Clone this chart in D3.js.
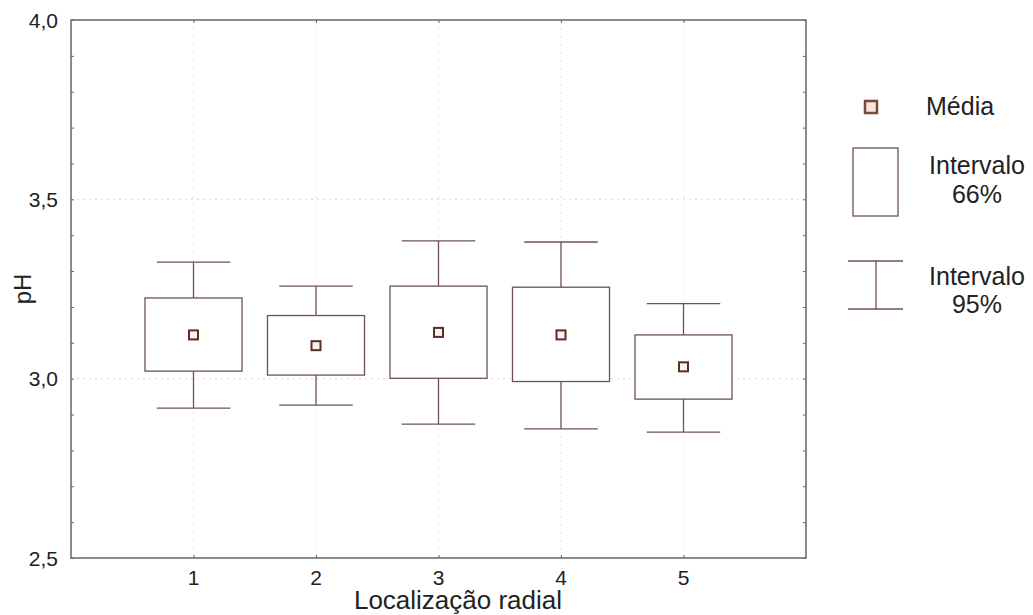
<!DOCTYPE html>
<html lang="pt">
<head>
	<meta charset="utf-8"/>
	<title> pH por localização radial </title>
	<script src="https://cdnjs.cloudflare.com/ajax/libs/d3/7.8.5/d3.min.js"></script>
	<style>
		body { margin: 0; background: #fff; }
		text { font-family: "Liberation Sans", Arial, sans-serif; fill: #222; }
	</style>
</head>
<body>
<svg id="chart" width="1033" height="615"></svg>
<script type="text/javascript">
	// valores
	var categories = [1, 2, 3, 4, 5];
	var means     = [3.122, 3.092, 3.129, 3.122, 3.033];
	var box66Low  = [3.021, 3.010, 3.001, 2.992, 2.943];
	var box66High = [3.225, 3.176, 3.258, 3.255, 3.122];
	var ci95Low   = [2.918, 2.926, 2.873, 2.860, 2.851];
	var ci95High  = [3.325, 3.258, 3.384, 3.381, 3.209];
	var yTicks = [2.5, 3.0, 3.5, 4.0];
	var yGrid = [3.0, 3.5];
	var xTitle = "Localização radial";
	var yTitle = "pH";

	var pLeft = 71, pRight = 806, pTop = 20, pBottom = 558;
	var lineColor = "#6e5252";
	var axisColor = "#666";

	var svg = d3.select("#chart");
	var x = d3.scaleLinear().domain([0, 6]).range([pLeft, pRight]);
	var y = d3.scaleLinear().domain([2.5, 4.0]).range([pBottom, pTop]);
	var fmt = function(d) { return d3.format(".1f")(d).replace(".", ","); };
	var step = x(1) - x(0);

	//grid pontilhado
	svg.append("g").selectAll("line")
		.data(yGrid).enter().append("line")
		.attr("x1", pLeft).attr("x2", pRight)
		.attr("y1", function(d) { return y(d); }).attr("y2", function(d) { return y(d); })
		.attr("stroke", "#d8d8d8").attr("stroke-dasharray", "2,4");
	svg.append("g").selectAll("line")
		.data(categories).enter().append("line")
		.attr("x1", function(d) { return x(d); }).attr("x2", function(d) { return x(d); })
		.attr("y1", pTop).attr("y2", pBottom)
		.attr("stroke", "#e0e0e0").attr("stroke-dasharray", "2,6");

	//eixos (ticks para dentro)
	var minor = d3.range(25, 41).map(function(d) { return d / 10; });
	function styleAxis(g) { g.select(".domain").remove(); g.selectAll("line").attr("stroke", axisColor); }
	svg.append("g").attr("transform", "translate(" + pLeft + ",0)")
		.call(d3.axisRight(y).tickValues(minor).tickSize(3).tickFormat(""))
		.call(styleAxis);
	svg.append("g").attr("transform", "translate(" + pRight + ",0)")
		.call(d3.axisLeft(y).tickValues(minor).tickSize(3).tickFormat(""))
		.call(styleAxis);
	svg.append("g").attr("transform", "translate(0," + pBottom + ")")
		.call(d3.axisTop(x).tickValues(categories).tickSize(3).tickFormat(""))
		.call(styleAxis);
	svg.append("g").attr("transform", "translate(0," + pTop + ")")
		.call(d3.axisBottom(x).tickValues(categories).tickSize(3).tickFormat(""))
		.call(styleAxis);

	svg.append("rect")
		.attr("x", pLeft).attr("y", pTop)
		.attr("width", pRight - pLeft).attr("height", pBottom - pTop)
		.attr("fill", "none").attr("stroke", axisColor).attr("stroke-width", 1.5);

	//rótulos dos ticks
	svg.append("g").selectAll("text")
		.data(yTicks).enter().append("text")
		.attr("x", 58).attr("y", function(d) { return y(d); })
		.attr("dy", "0.36em").attr("text-anchor", "end")
		.style("font-size", "21px")
		.text(fmt);
	svg.append("g").selectAll("text")
		.data(categories).enter().append("text")
		.attr("x", function(d) { return x(d); }).attr("y", 585)
		.attr("text-anchor", "middle")
		.style("font-size", "21px")
		.text(function(d) { return d; });

	svg.append("text")
		.attr("x", 458).attr("y", 609)
		.attr("text-anchor", "middle")
		.style("font-size", "26px")
		.text(xTitle);
	svg.append("text")
		.attr("transform", "translate(31,289) rotate(-90)")
		.attr("text-anchor", "middle")
		.style("font-size", "24px")
		.text(yTitle);

	var plot = svg.append("g");
	categories.forEach(function(c, i) {
		var cx = x(c), cap = step * 0.3, half = step * 0.396;
		//intervalo 95%
		plot.append("line")
			.attr("x1", cx).attr("x2", cx)
			.attr("y1", y(ci95High[i])).attr("y2", y(ci95Low[i]))
			.attr("stroke", lineColor).attr("stroke-width", 1.3);
		[ci95High[i], ci95Low[i]].forEach(function(v) {
			plot.append("line")
				.attr("x1", cx - cap).attr("x2", cx + cap)
				.attr("y1", y(v)).attr("y2", y(v))
				.attr("stroke", lineColor).attr("stroke-width", 1.3);
		});
		//intervalo 66%
		plot.append("rect")
			.attr("x", cx - half).attr("y", y(box66High[i]))
			.attr("width", half * 2).attr("height", y(box66Low[i]) - y(box66High[i]))
			.attr("fill", "#fff").attr("stroke", lineColor).attr("stroke-width", 1.3);
		//média
		plot.append("rect")
			.attr("x", cx - 4.5).attr("y", y(means[i]) - 4.5)
			.attr("width", 9).attr("height", 9)
			.attr("fill", "#fbf1ee").attr("stroke", "#5a2e24").attr("stroke-width", 2);
	});

	//legenda
	var lg = svg.append("g");
	lg.append("rect")
		.attr("x", 865).attr("y", 101).attr("width", 12).attr("height", 12)
		.attr("fill", "#f7e6da").attr("stroke", "#7a4a38").attr("stroke-width", 2.5);
	lg.append("text").attr("x", 926).attr("y", 115).style("font-size", "25px").text("Média");

	lg.append("rect")
		.attr("x", 853).attr("y", 148).attr("width", 45).attr("height", 68)
		.attr("fill", "#fff").attr("stroke", lineColor).attr("stroke-width", 1.3);
	lg.append("text").attr("x", 977).attr("y", 174).attr("text-anchor", "middle")
		.style("font-size", "25px").text("Intervalo");
	lg.append("text").attr("x", 977).attr("y", 203).attr("text-anchor", "middle")
		.style("font-size", "25px").text("66%");

	lg.append("line").attr("x1", 848).attr("x2", 903).attr("y1", 261).attr("y2", 261)
		.attr("stroke", lineColor).attr("stroke-width", 1.3);
	lg.append("line").attr("x1", 848).attr("x2", 903).attr("y1", 309).attr("y2", 309)
		.attr("stroke", lineColor).attr("stroke-width", 1.3);
	lg.append("line").attr("x1", 876).attr("x2", 876).attr("y1", 261).attr("y2", 309)
		.attr("stroke", lineColor).attr("stroke-width", 1.3);
	lg.append("text").attr("x", 977).attr("y", 285).attr("text-anchor", "middle")
		.style("font-size", "25px").text("Intervalo");
	lg.append("text").attr("x", 977).attr("y", 313).attr("text-anchor", "middle")
		.style("font-size", "25px").text("95%");
</script>
</body>
</html>
